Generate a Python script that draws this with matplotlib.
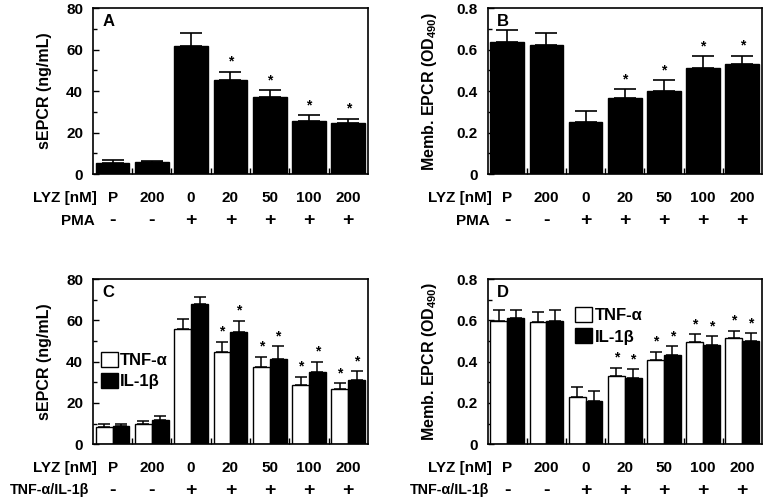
import numpy as np
import matplotlib.pyplot as plt
from matplotlib.transforms import blended_transform_factory

plt.rcParams['font.family'] = ['Liberation Sans', 'DejaVu Sans']
plt.rcParams['font.weight'] = 'bold'
plt.rcParams['mathtext.fontset'] = 'custom'
plt.rcParams['mathtext.rm'] = 'Liberation Sans:bold'
plt.rcParams['mathtext.bf'] = 'Liberation Sans:bold'

# LYZ concentrations / stimulation rows
lyz_labels = ['P', '200', '0', '20', '50', '100', '200']
stim_signs = ['-', '-', '+', '+', '+', '+', '+']
star_groups = [3, 4, 5, 6]

# Panel A: PMA, soluble EPCR (ng/mL)
a_mean = [5.5, 5.6, 61.5, 45.4, 37.0, 25.8, 24.5]
a_err = [1.1, 0.7, 6.3, 4.0, 3.4, 2.5, 2.2]

# Panel B: PMA, membrane EPCR (OD490)
b_mean = [0.635, 0.624, 0.253, 0.365, 0.402, 0.511, 0.531]
b_err = [0.060, 0.058, 0.052, 0.043, 0.051, 0.057, 0.040]

# Panel C: TNF-a / IL-1b, soluble EPCR
c_tnf = [8.4, 9.7, 55.7, 44.9, 37.6, 28.5, 26.6]
c_tnf_err = [1.3, 1.6, 4.9, 4.8, 4.8, 4.2, 2.9]
c_il1 = [8.6, 11.7, 67.9, 54.4, 41.5, 34.8, 31.1]
c_il1_err = [1.4, 2.1, 3.4, 5.5, 5.9, 5.2, 4.2]

# Panel D: TNF-a / IL-1b, membrane EPCR
d_tnf = [0.597, 0.592, 0.231, 0.332, 0.407, 0.494, 0.514]
d_tnf_err = [0.052, 0.050, 0.045, 0.039, 0.042, 0.039, 0.036]
d_il1 = [0.610, 0.597, 0.210, 0.320, 0.433, 0.480, 0.499]
d_il1_err = [0.039, 0.052, 0.047, 0.044, 0.042, 0.044, 0.038]

fig = plt.figure(figsize=(7.68, 5.03), dpi=100)
axA = fig.add_axes([0.121, 0.654, 0.358, 0.330])
axB = fig.add_axes([0.635, 0.654, 0.357, 0.330])
axC = fig.add_axes([0.121, 0.117, 0.358, 0.328])
axD = fig.add_axes([0.635, 0.117, 0.357, 0.328])

x = np.arange(len(lyz_labels))


def style_axis(ax, ymax, ystep, ylabel, letter, stim_name, labx, stim_x, stim_size):
    ax.set_xlim(-0.5, len(lyz_labels) - 0.5)
    ax.set_ylim(0, ymax)
    ax.set_yticks(np.arange(0, ymax + ystep / 2, ystep))
    ax.set_yticks(np.arange(0, ymax, ystep / 2), minor=True)
    if ystep < 1:
        ax.set_yticklabels(['0'] + ['%.1f' % v for v in np.arange(ystep, ymax + ystep / 2, ystep)])
    ax.set_xticks([])
    ax.set_xticks(x[:-1] + 0.5, minor=True)
    ax.tick_params(axis='y', which='both', direction='in', labelsize=11, pad=7)
    ax.tick_params(axis='y', which='major', length=4, width=1)
    ax.tick_params(axis='y', which='minor', length=3, width=1)
    ax.tick_params(axis='x', which='minor', direction='in', length=4, width=1)
    for sp in ax.spines.values():
        sp.set_linewidth(1.2)
    ax.set_ylabel(ylabel, fontsize=11.5, fontweight='bold')
    ax.yaxis.set_label_coords(labx, 0.5)
    ax.text(0.035, 0.92, letter, transform=ax.transAxes, fontsize=12,
            fontweight='bold', va='center', ha='left')
    tr = blended_transform_factory(ax.transData, ax.transAxes)
    row1 = -0.145
    row2 = -0.28
    ax.text(0.015, row1, 'LYZ [nM]', transform=ax.transAxes, ha='right',
            va='center', fontsize=11, fontweight='bold')
    ax.text(stim_x, row2, stim_name, transform=ax.transAxes, ha='right',
            va='center', fontsize=stim_size, fontweight='bold')
    for xi, lab, s in zip(x, lyz_labels, stim_signs):
        ax.text(xi, row1, lab, transform=tr, ha='center', va='center',
                fontsize=11, fontweight='bold')
        ax.text(xi, row2, s, transform=tr, ha='center', va='center',
                fontsize=14, fontweight='bold')


def stars(ax, xs, tops):
    for xi, t in zip(xs, tops):
        ax.annotate('*', (xi, t), xytext=(0, 2), textcoords='offset points',
                    ha='center', va='bottom', fontsize=10, fontweight='bold')


# Panel A
axA.bar(x, a_mean, width=0.86, color='black', edgecolor='black', zorder=2)
axA.errorbar(x, a_mean, yerr=[np.zeros(7), a_err], fmt='none', ecolor='black',
             elinewidth=1.2, capsize=8, capthick=1.2, zorder=1)
stars(axA, x[star_groups], np.add(a_mean, a_err)[star_groups])
style_axis(axA, 80, 20, 'sEPCR (ng/mL)', 'A', 'PMA', -0.149, 0.008, 11)

# Panel B
axB.bar(x, b_mean, width=0.86, color='black', edgecolor='black', zorder=2)
axB.errorbar(x, b_mean, yerr=[np.zeros(7), b_err], fmt='none', ecolor='black',
             elinewidth=1.2, capsize=8, capthick=1.2, zorder=1)
stars(axB, x[star_groups], np.add(b_mean, b_err)[star_groups])
style_axis(axB, 0.8, 0.2, 'Memb. EPCR (OD$_{490}$)', 'B', 'PMA', -0.179, 0.008, 11)

# Panels C and D: paired bars
w = 0.43
for ax, tnf, tnf_e, il1, il1_e in [(axC, c_tnf, c_tnf_err, c_il1, c_il1_err),
                                   (axD, d_tnf, d_tnf_err, d_il1, d_il1_err)]:
    ax.bar(x - w / 2, tnf, width=w, color='white', edgecolor='black',
           linewidth=1, label='TNF-α', zorder=2)
    ax.bar(x + w / 2, il1, width=w, color='black', edgecolor='black',
           linewidth=1, label='IL-1β', zorder=2)
    ax.errorbar(x - w / 2, tnf, yerr=[np.zeros(7), tnf_e], fmt='none',
                ecolor='black', elinewidth=1.1, capsize=4, capthick=1.1, zorder=1)
    ax.errorbar(x + w / 2, il1, yerr=[np.zeros(7), il1_e], fmt='none',
                ecolor='black', elinewidth=1.1, capsize=4, capthick=1.1, zorder=1)
    stars(ax, (x - w / 2)[star_groups], np.add(tnf, tnf_e)[star_groups])
    stars(ax, (x + w / 2)[star_groups], np.add(il1, il1_e)[star_groups])

style_axis(axC, 80, 20, 'sEPCR (ng/mL)', 'C', 'TNF-α/IL-1β', -0.012, -0.012, 10.3)
axC.yaxis.set_label_coords(-0.149, 0.5)
style_axis(axD, 0.8, 0.2, 'Memb. EPCR (OD$_{490}$)', 'D', 'TNF-α/IL-1β', -0.179, 0.006, 10.3)

for ax, anchor in [(axC, (0.03, 0.56)), (axD, (0.32, 0.83))]:
    ax.legend(loc='upper left', bbox_to_anchor=anchor, frameon=False,
              handlelength=1.0, handleheight=1.0,
              handletextpad=0.15, labelspacing=0.3, borderpad=0,
              borderaxespad=0, prop={'weight': 'bold', 'size': 12})

fig.savefig('out.png', dpi=100)
